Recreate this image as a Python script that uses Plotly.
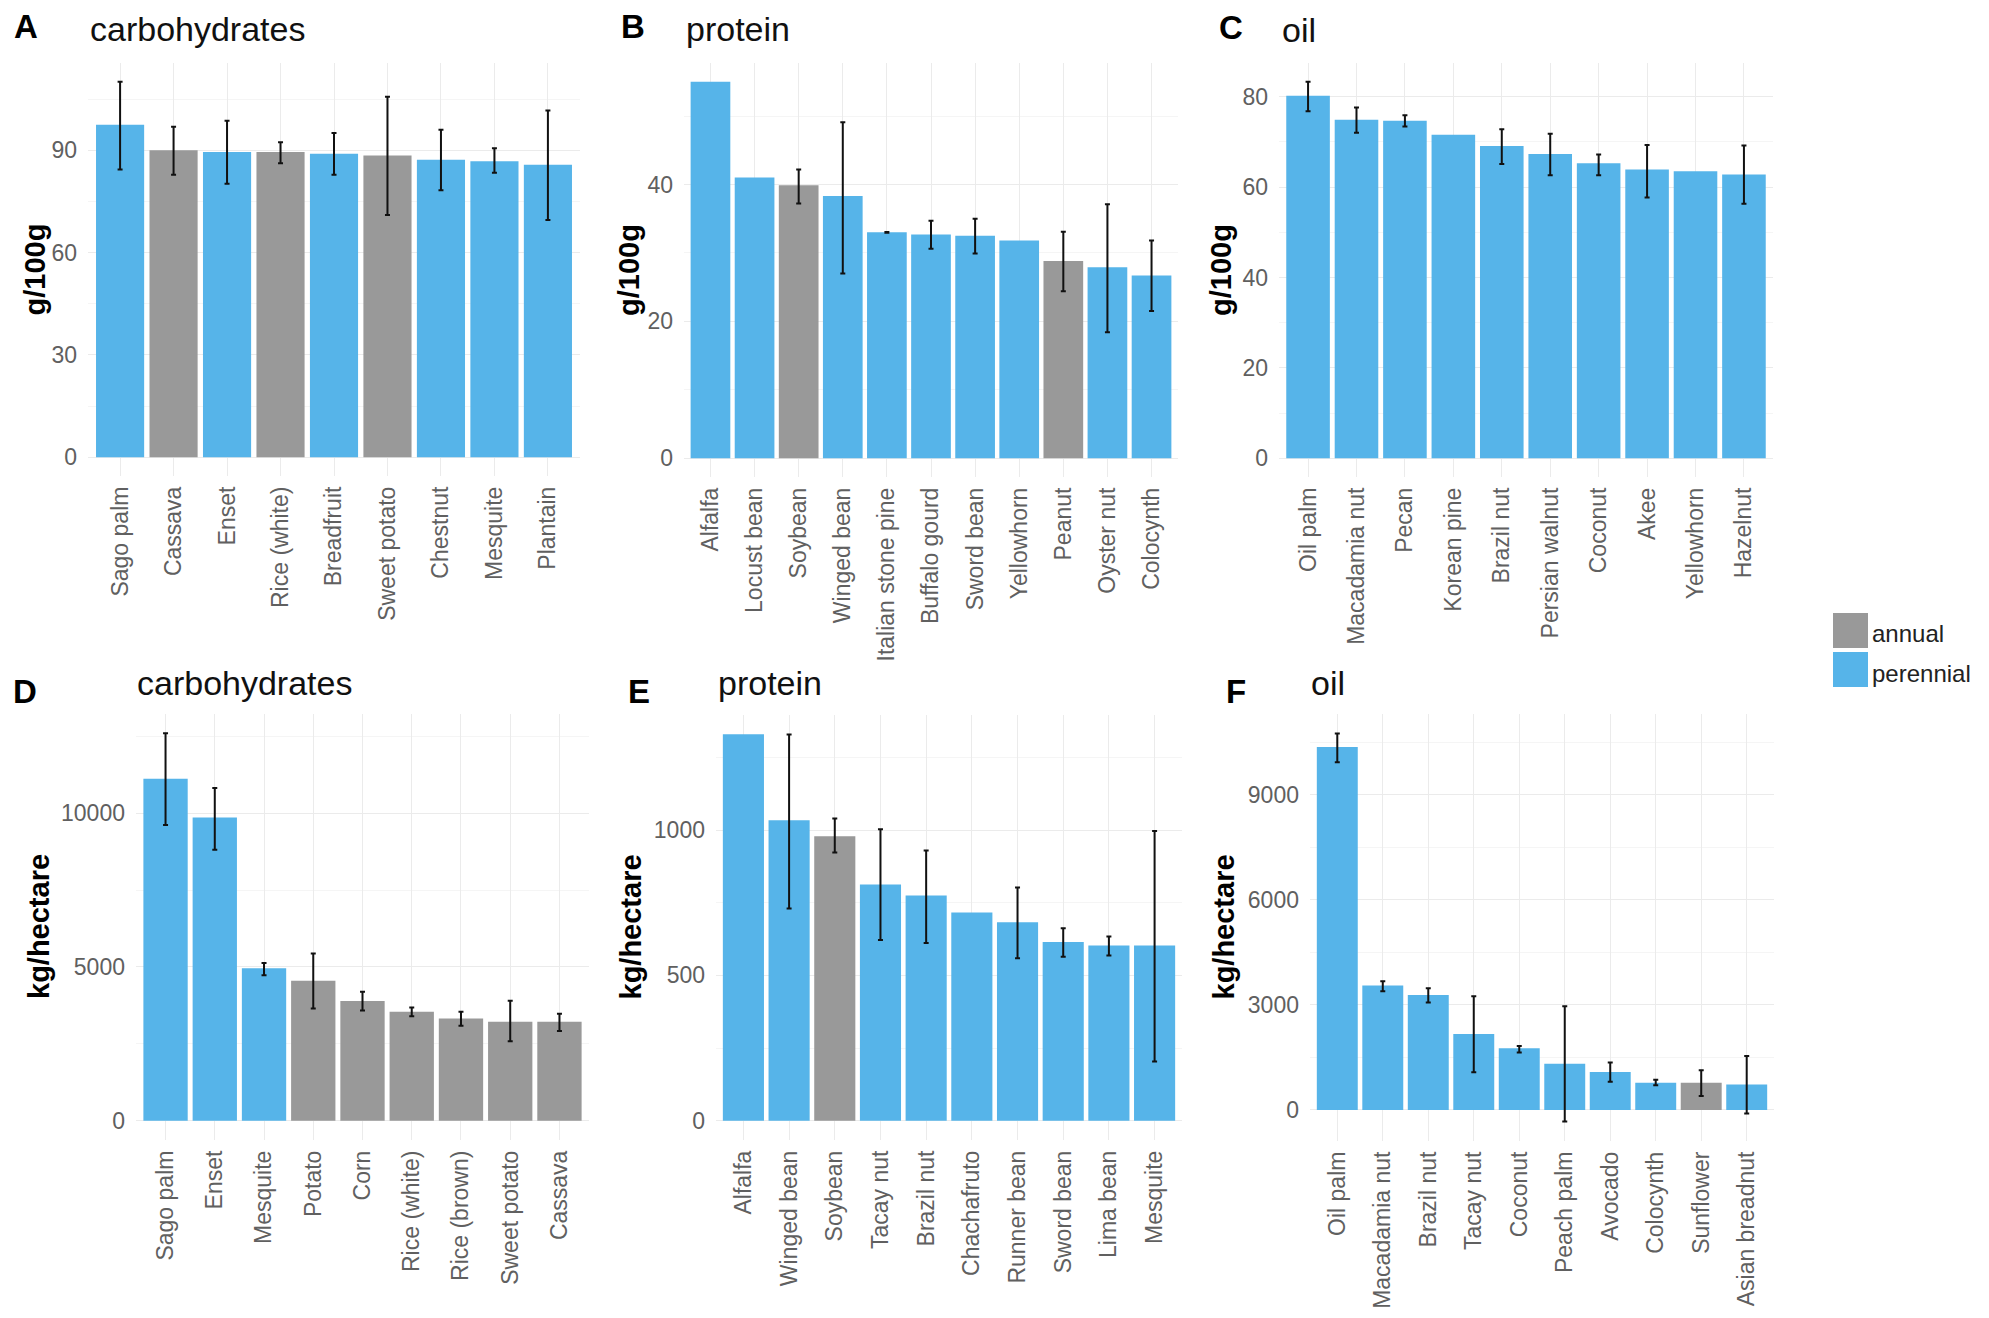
import plotly.graph_objects as go

W, H = 1989, 1318
OFF = 8  # default page body margin shifts the figure by this many px

# ---------------- data ----------------
A_cat = ["Sago palm", "Cassava", "Enset", "Rice (white)", "Breadfruit", "Sweet potato", "Chestnut", "Mesquite", "Plantain"]
A_val = [97.5, 90.0, 89.5, 89.5, 89.0, 88.5, 87.2, 86.8, 85.8]
A_lo = [84.4, 82.8, 80.2, 86.2, 82.8, 71.0, 78.3, 83.4, 69.6]
A_hi = [110.1, 96.9, 98.7, 92.4, 95.1, 105.7, 96.0, 90.6, 101.7]
A_type = ["perennial", "annual", "perennial", "annual", "perennial", "annual", "perennial", "perennial", "perennial"]

B_cat = ["Alfalfa", "Locust bean", "Soybean", "Winged bean", "Italian stone pine", "Buffalo gourd", "Sword bean", "Yellowhorn", "Peanut", "Oyster nut", "Colocynth"]
B_val = [55.0, 41.0, 39.9, 38.3, 33.0, 32.7, 32.5, 31.8, 28.8, 27.9, 26.7]
B_lo = [None, None, 37.2, 27.0, 32.95, 30.6, 29.9, None, 24.4, 18.4, 21.5]
B_hi = [None, None, 42.2, 49.1, 33.05, 34.7, 35.0, None, 33.1, 37.1, 31.8]
B_type = ["perennial", "perennial", "annual", "perennial", "perennial", "perennial", "perennial", "perennial", "annual", "perennial", "perennial"]

C_cat = ["Oil palm", "Macadamia nut", "Pecan", "Korean pine", "Brazil nut", "Persian walnut", "Coconut", "Akee", "Yellowhorn", "Hazelnut"]
C_val = [80.2, 74.9, 74.7, 71.6, 69.1, 67.3, 65.3, 63.9, 63.5, 62.8]
C_lo = [76.8, 72.0, 73.4, None, 65.1, 62.6, 62.6, 57.7, None, 56.3]
C_hi = [83.3, 77.6, 75.9, None, 72.8, 71.8, 67.2, 69.3, None, 69.2]
C_type = ["perennial"] * 10

D_cat = ["Sago palm", "Enset", "Mesquite", "Potato", "Corn", "Rice (white)", "Rice (brown)", "Sweet potato", "Cassava"]
D_val = [11120, 9860, 4960, 4550, 3890, 3540, 3320, 3220, 3220]
D_lo = [9620, 8810, 4730, 3650, 3580, 3400, 3090, 2580, 2920]
D_hi = [12600, 10820, 5130, 5440, 4190, 3680, 3540, 3900, 3480]
D_type = ["perennial", "perennial", "perennial", "annual", "annual", "annual", "annual", "annual", "annual"]

E_cat = ["Alfalfa", "Winged bean", "Soybean", "Tacay nut", "Brazil nut", "Chachafruto", "Runner bean", "Sword bean", "Lima bean", "Mesquite"]
E_val = [1330, 1034, 979, 813, 775, 717, 683, 615, 603, 603]
E_lo = [None, 730, 923, 622, 612, None, 559, 564, 569, 204]
E_hi = [None, 1329, 1040, 1003, 930, None, 803, 662, 634, 997]
E_type = ["perennial", "perennial", "annual", "perennial", "perennial", "perennial", "perennial", "perennial", "perennial", "perennial"]

F_cat = ["Oil palm", "Macadamia nut", "Brazil nut", "Tacay nut", "Coconut", "Peach palm", "Avocado", "Colocynth", "Sunflower", "Asian breadnut"]
F_val = [10360, 3550, 3280, 2170, 1760, 1320, 1085, 777, 777, 727]
F_lo = [9930, 3390, 3070, 1073, 1640, -333, 801, 703, 395, -99]
F_hi = [10750, 3674, 3477, 3243, 1825, 2959, 1356, 863, 1134, 1541]
F_type = ["perennial", "perennial", "perennial", "perennial", "perennial", "perennial", "perennial", "perennial", "annual", "perennial"]

COLORS = {"annual": "#999999", "perennial": "#56B4E9"}
FONT = "Liberation Sans, Arial, sans-serif"

# Lp: (x, y, yanchor) of the panel letter
panels = [
    dict(L="A", T="carbohydrates", Y="g/100g", c=A_cat, v=A_val, lo=A_lo, hi=A_hi, t=A_type, d=30,
         box=(88, 580, 63, 476), Lp=(13, 27, "middle"), Tp=(88, 29), Yx=34),
    dict(L="B", T="protein", Y="g/100g", c=B_cat, v=B_val, lo=B_lo, hi=B_hi, t=B_type, d=20,
         box=(684, 1178, 63, 477), Lp=(620, 27, "middle"), Tp=(684, 29), Yx=629),
    dict(L="C", T="oil", Y="g/100g", c=C_cat, v=C_val, lo=C_lo, hi=C_hi, t=C_type, d=20,
         box=(1279, 1773, 63, 477), Lp=(1218, OFF, "top"), Tp=(1280, 30), Yx=1221),
    dict(L="D", T="carbohydrates", Y="kg/hectare", c=D_cat, v=D_val, lo=D_lo, hi=D_hi, t=D_type, d=5000,
         box=(136, 589, 714, 1140), Lp=(12, 691, "middle"), Tp=(135, 683), Yx=39),
    dict(L="E", T="protein", Y="kg/hectare", c=E_cat, v=E_val, lo=E_lo, hi=E_hi, t=E_type, d=500,
         box=(716, 1182, 715, 1140), Lp=(627, 691, "middle"), Tp=(716, 683), Yx=631),
    dict(L="F", T="oil", Y="kg/hectare", c=F_cat, v=F_val, lo=F_lo, hi=F_hi, t=F_type, d=3000,
         box=(1310, 1774, 714, 1141), Lp=(1225, 691, "middle"), Tp=(1309, 683), Yx=1224),
]

fig = go.Figure()
annotations = []
shapes = []


def px_x(x):
    return (x - OFF) / W


def px_y(y):
    return 1 - (y - OFF) / H


for i, p in enumerate(panels):
    n = i + 1
    xa = "x" if n == 1 else f"x{n}"
    ya = "y" if n == 1 else f"y{n}"
    fig.add_trace(go.Bar(
        x=p["c"], y=p["v"], xaxis=xa, yaxis=ya,
        marker=dict(color=[COLORS[t] for t in p["t"]], line=dict(width=0)),
        showlegend=False, hoverinfo="x+y",
    ))
    # error bars only where a range exists
    ex, ey, ep, em = [], [], [], []
    for c, v, l, h in zip(p["c"], p["v"], p["lo"], p["hi"]):
        if l is None or h is None:
            continue
        ex.append(c)
        ey.append(v)
        ep.append(h - v)
        em.append(v - l)
    fig.add_trace(go.Scatter(
        x=ex, y=ey, xaxis=xa, yaxis=ya, mode="markers",
        marker=dict(size=1, color="rgba(0,0,0,0)"),
        error_y=dict(type="data", symmetric=False, array=ep, arrayminus=em,
                     color="#111111", thickness=2, width=2.5, visible=True),
        showlegend=False, hoverinfo="skip",
    ))
    lows = [l for l in p["lo"] if l is not None]
    highs = [h for h in p["hi"] if h is not None]
    lo = min([0] + lows)
    hi = max(highs + p["v"])
    pad = 0.05 * (hi - lo)
    x0, x1, y0, y1 = p["box"]
    key = "" if n == 1 else str(n)
    fig.layout["xaxis" + key] = dict(
        domain=[px_x(x0), px_x(x1)], anchor=ya, type="category",
        categoryorder="array", categoryarray=p["c"],
        range=[-0.6, len(p["c"]) - 0.4], tickangle=-90,
        showgrid=True, gridcolor="#ebebeb", gridwidth=1.2, zeroline=False,
        showline=False, ticks="", ticklabelstandoff=5,
        tickfont=dict(family=FONT, size=23, color="#606060"),
    )
    fig.layout["yaxis" + key] = dict(
        domain=[px_y(y1), px_y(y0)], anchor=xa,
        range=[lo - pad, hi + pad], dtick=p["d"], tick0=0, tickformat="d",
        showgrid=True, gridcolor="#ebebeb", gridwidth=1.2, zeroline=False,
        showline=False, ticks="", ticklabelstandoff=10,
        minor=dict(dtick=p["d"] / 2, tick0=0, showgrid=True, gridcolor="#f5f5f5", gridwidth=1),
        tickfont=dict(family=FONT, size=23, color="#606060"),
    )
    lx, ly, lanchor = p["Lp"]
    annotations.append(dict(
        x=px_x(lx), y=min(1.0, px_y(ly)), xref="paper", yref="paper",
        xanchor="left", yanchor=lanchor, text=f"<b>{p['L']}</b>", showarrow=False,
        borderpad=0, font=dict(family=FONT, size=33, color="#000000")))
    annotations.append(dict(
        x=px_x(p["Tp"][0]), y=px_y(p["Tp"][1]), xref="paper", yref="paper",
        xanchor="left", yanchor="middle", text=p["T"], showarrow=False,
        font=dict(family=FONT, size=34, color="#111111")))
    annotations.append(dict(
        x=px_x(p["Yx"]), y=px_y((y0 + y1) / 2), xref="paper", yref="paper",
        xanchor="center", yanchor="middle", text=f"<b>{p['Y']}</b>", showarrow=False,
        textangle=-90, font=dict(family=FONT, size=29, color="#000000")))

# legend (manual, ggplot-style large keys)
legend_items = ["annual", "perennial"]
key_x0, key_x1 = 1833, 1868
key_tops = [613, 652]
for name, top in zip(legend_items, key_tops):
    shapes.append(dict(type="rect", xref="paper", yref="paper",
                       x0=px_x(key_x0), x1=px_x(key_x1), y0=px_y(top + 35), y1=px_y(top),
                       fillcolor=COLORS[name], line=dict(width=0)))
    annotations.append(dict(x=px_x(key_x1 + 2), y=px_y(top + 21), xref="paper", yref="paper",
                            xanchor="left", yanchor="middle", text=name, showarrow=False,
                            font=dict(family=FONT, size=24, color="#222222")))

fig.update_layout(
    width=W, height=H, margin=dict(l=0, r=0, t=0, b=0),
    paper_bgcolor="white", plot_bgcolor="white",
    bargap=0.1, annotations=annotations, shapes=shapes, showlegend=False,
)

fig.write_html("out.html")
